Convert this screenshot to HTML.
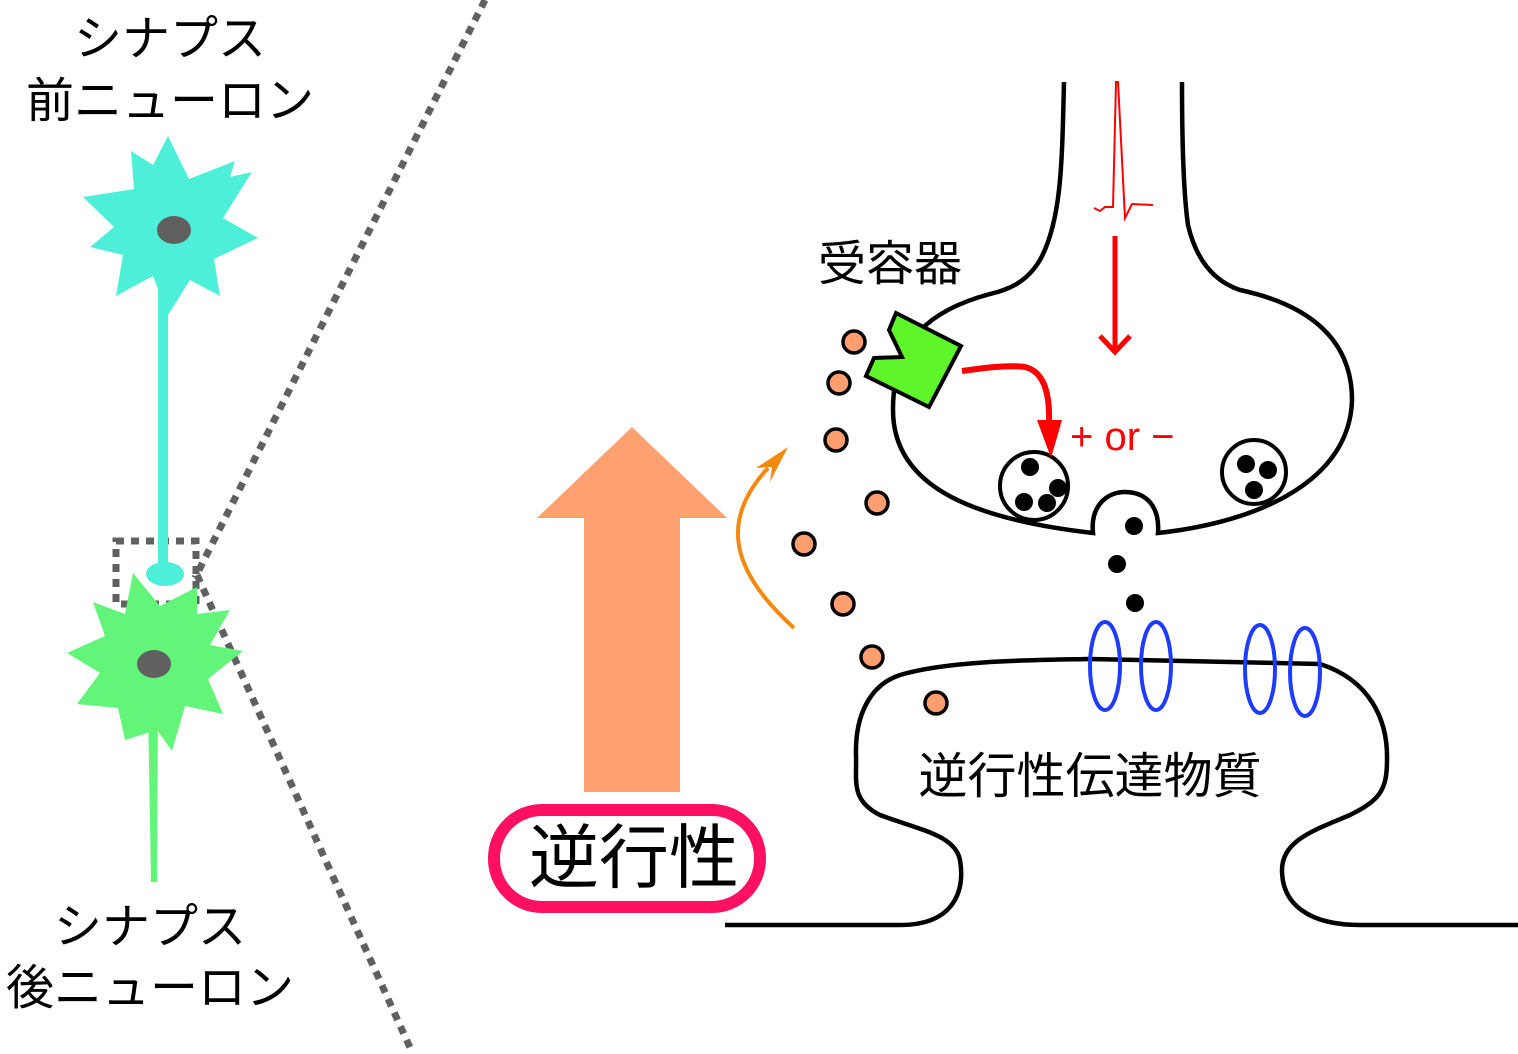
<!DOCTYPE html>
<html><head><meta charset="utf-8"><style>
html,body{margin:0;padding:0;background:#fff;}
svg{display:block;}
text{font-family:"Liberation Sans","Noto Sans CJK JP",sans-serif;}
</style></head><body>
<svg width="1518" height="1054" viewBox="0 0 1518 1054" xmlns="http://www.w3.org/2000/svg">
<!-- dotted lines -->
<g stroke="#606060" stroke-width="7" stroke-dasharray="8 7" fill="none">
<line x1="485" y1="0" x2="195" y2="578"/>
<line x1="197" y1="575" x2="412" y2="1052"/>
<rect x="116" y="541" width="80" height="63"/>
</g>
<!-- presynaptic neuron -->
<polygon fill="#4eefd8" points="168,136 189,179 235,161 230,177 252,172 223,218 258,238 214,259 220,296 190,280 168,315 153,276 116,296 123,255 90,247 114,227 83,197 134,189 131,151 153,165"/>
<rect x="158" y="270" width="10" height="295" fill="#4eefd8"/>
<ellipse cx="165" cy="574" rx="19" ry="12" fill="#4eefd8"/>
<ellipse cx="174" cy="230" rx="17" ry="14" fill="#606060"/>
<!-- postsynaptic neuron -->
<polygon fill="#62f57a" points="133,573 160,606 197,587 197,614 230,610 210,645 243,651 208,679 223,714 185,706 172,751 157,730 125,740 118,708 77,704 100,673 67,653 105,636 93,602 125,614"/>
<polygon fill="#62f57a" points="148,705 158,705 157,882 151,882"/>
<ellipse cx="154" cy="664" rx="17" ry="14" fill="#606060"/>
<!-- labels left -->
<text x="170" y="55" font-size="48" text-anchor="middle">シナプス</text>
<text x="170" y="117" font-size="48" text-anchor="middle">前ニューロン</text>
<text x="150" y="943" font-size="48" text-anchor="middle">シナプス</text>
<text x="150" y="1004" font-size="48" text-anchor="middle">後ニューロン</text>
<!-- big arrow -->
<polygon fill="#ffa070" points="537,518 632,427 727,518 680,518 680,792 584,792 584,518"/>
<rect x="494" y="810" width="266" height="97" rx="48" fill="#fff" stroke="#ff1060" stroke-width="12"/>
<text x="634" y="882" font-size="70" text-anchor="middle">逆行性</text>
<!-- orange curve arrow -->
<path d="M794,628 C730,570 720,520 768,468" stroke="#f5890e" stroke-width="4" fill="none"/>
<polygon fill="#f5890e" points="788,447 756,468 772,467 770,482"/>
<!-- presynaptic terminal -->
<path d="M1064,82 C1062,160 1062,220 1040,260 C1025,285 1005,290 990,294 C930,310 893,340 893,410 C893,490 980,520 1093,533 C1090,505 1108,492 1125,492 C1145,492 1160,505 1158,533 C1260,522 1350,480 1352,400 C1352,340 1310,305 1240,290 C1210,280 1195,255 1188,225 C1183,190 1182,130 1182,82" fill="none" stroke="#000" stroke-width="4.5"/>
<!-- postsynaptic -->
<path d="M725,925 L900,925 C955,925 965,890 960,860 C955,835 920,830 880,815 C850,800 857,780 856,755 C855,715 870,685 900,675 C950,660 1040,660 1090,659 L1320,664 C1370,680 1388,720 1387,760 C1387,790 1380,800 1350,815 C1315,830 1282,840 1282,870 C1282,905 1310,925 1360,925 L1518,925" fill="none" stroke="#000" stroke-width="4.5"/>
<g fill="none" stroke="#1e3cff" stroke-width="4">
<ellipse cx="1105" cy="666" rx="15" ry="44"/>
<ellipse cx="1156" cy="666" rx="15" ry="44"/>
<ellipse cx="1260" cy="669" rx="15" ry="44"/>
<ellipse cx="1305" cy="672" rx="15" ry="44"/>
</g>
<text x="1090" y="793" font-size="49" text-anchor="middle">逆行性伝達物質</text>
<!-- vesicles -->
<circle cx="1034" cy="486" r="34" fill="#fff" stroke="#000" stroke-width="4"/>
<g fill="#000"><circle cx="1030" cy="467" r="9"/><circle cx="1058" cy="488" r="9"/><circle cx="1024" cy="502" r="9"/><circle cx="1047" cy="503" r="9"/></g>
<circle cx="1254" cy="472" r="32" fill="#fff" stroke="#000" stroke-width="4"/>
<g fill="#000"><circle cx="1246" cy="464" r="9"/><circle cx="1268" cy="470" r="9"/><circle cx="1254" cy="490" r="9"/></g>
<g fill="#000"><circle cx="1134" cy="526" r="9"/><circle cx="1117" cy="564" r="9"/><circle cx="1135" cy="603" r="9"/></g>
<!-- orange dots -->
<g fill="#ff9e6e" stroke="#000" stroke-width="3.5">
<circle cx="854" cy="342" r="11"/><circle cx="839" cy="383" r="11"/><circle cx="836" cy="440" r="11"/>
<circle cx="877" cy="503" r="11"/><circle cx="804" cy="544" r="11"/><circle cx="843" cy="604" r="11"/>
<circle cx="872" cy="657" r="11"/><circle cx="936" cy="703" r="11"/>
</g>
<!-- receptor -->
<polygon points="896,313 961,346 929,407 866,376 874,358 902,357 889,330" fill="#5ef52a" stroke="#000" stroke-width="4" stroke-linejoin="miter"/>
<text x="890" y="280" font-size="48" text-anchor="middle">受容器</text>
<!-- red arrows -->
<path d="M962,371 C990,367 1010,365 1025,367 C1045,372 1050,395 1049,425" stroke="#ff0000" stroke-width="6" fill="none"/>
<polygon fill="#ff0000" points="1037,420 1062,420 1051,458"/>
<line x1="1115" y1="236" x2="1115" y2="350" stroke="#ff0000" stroke-width="5"/>
<polyline points="1100,336 1115,352 1130,336" stroke="#ff0000" stroke-width="5" fill="none"/>
<polyline points="1094,208 1100,211 1105,207 1113,207 1116,82 1118,82 1125,218 1132,204 1153,205" stroke="#ff0000" stroke-width="2" fill="none"/>
<text x="1070" y="450" font-size="40" fill="#ff0000">+ or −</text>
</svg>
</body></html>
